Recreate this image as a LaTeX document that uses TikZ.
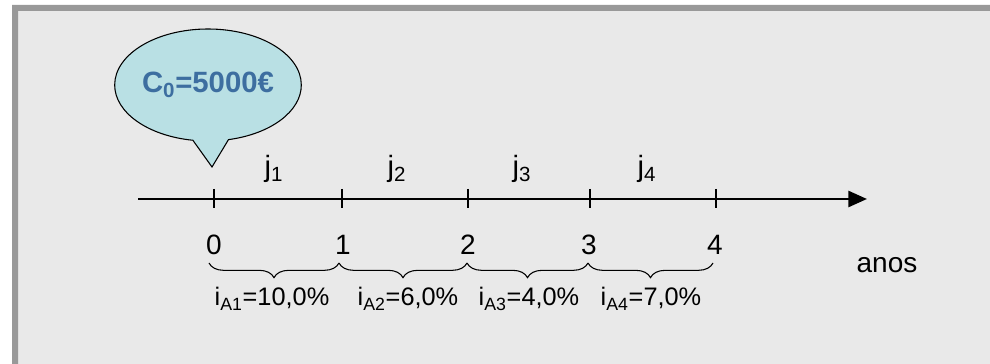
\documentclass[tikz,border=0pt]{standalone}
\usepackage{fontspec}
\setmainfont{Liberation Sans}
\usetikzlibrary{arrows.meta,shapes.callouts,decorations.pathreplacing}
\definecolor{panel}{HTML}{E9E9E9}
\definecolor{frame}{HTML}{999999}
\definecolor{balloon}{HTML}{B9E0E4}
\definecolor{capital}{HTML}{3D6EA0}
\tikzset{
	num/.style={font=\fontsize{21}{21}\selectfont,inner sep=0,anchor=base},
	period/.style={font=\fontsize{22}{22}\selectfont,inner sep=0,anchor=base},
	rate/.style={font=\fontsize{19}{19}\selectfont,inner sep=0,anchor=base},
	axtick/.style={line width=.9pt},
	rbrace/.style={decorate,decoration={brace,mirror,amplitude=11pt},line width=.8pt},
}
\begin{document}
\begin{tikzpicture}[x=.75pt,y=.75pt]
	\useasboundingbox(0,0)rectangle(990,364);
	% panel
	\fill[panel](12,0)rectangle(990,359);
	\fill[frame](12,0)rectangle(18,359) (12,353)rectangle(990,359);
	% time axis
	\coordinate(a0)at(138,165);
	\coordinate(a1)at(867,165);
	\draw[line width=2pt,-{Triangle[length=14pt,width=12pt]}](a0)--(a1);
	\coordinate(t0)at(214,165);
	\coordinate(t1)at(342,165);
	\coordinate(t2)at(468,165);
	\coordinate(t3)at(590,165);
	\coordinate(t4)at(716,165);
	\draw[axtick](t0)+(0,10)--+(0,-9) (t1)+(0,10)--+(0,-9) (t2)+(0,10)--+(0,-9)
		(t3)+(0,10)--+(0,-9) (t4)+(0,10)--+(0,-9);
	\node[num](n0)at(214,109){0};
	\node[num](n1)at(343,109){1};
	\node[num](n2)at(468,109){2};
	\node[num](n3)at(589,109){3};
	\node[num](n4)at(715,109){4};
	\node[num](yrs)at(887,91){anos};
	\node[period](j1)at(274,187){j\textsubscript{1}};
	\node[period](j2)at(397,187){j\textsubscript{2}};
	\node[period](j3)at(522,187){j\textsubscript{3}};
	\node[period](j4)at(647,187){j\textsubscript{4}};
	% braces
	\coordinate(b0)at(209,101);
	\coordinate(b1)at(339,101);
	\coordinate(b2)at(467,101);
	\coordinate(b3)at(588,101);
	\coordinate(b4)at(713,101);
	\draw[rbrace](b0)--(b1);
	\draw[rbrace](b1)--(b2);
	\draw[rbrace](b2)--(b3);
	\draw[rbrace](b3)--(b4);
	\node[rate](i1)at(272,58){i\textsubscript{A1}=10,0\%};
	\node[rate](i2)at(408,58){i\textsubscript{A2}=6,0\%};
	\node[rate](i3)at(529,58){i\textsubscript{A3}=4,0\%};
	\node[rate](i4)at(651,58){i\textsubscript{A4}=7,0\%};
	% initial capital
	\coordinate(tip)at(212,197);
	\node[ellipse callout,draw,line width=.8pt,fill=balloon,minimum width=132pt,minimum height=84pt,
		inner sep=0,callout absolute pointer={(tip)},callout pointer arc=22,
		font=\bfseries\fontsize{22}{22}\selectfont,text=capital](cap)at(208,279){C\textsubscript{0}=5000€};
\end{tikzpicture}
\end{document}
